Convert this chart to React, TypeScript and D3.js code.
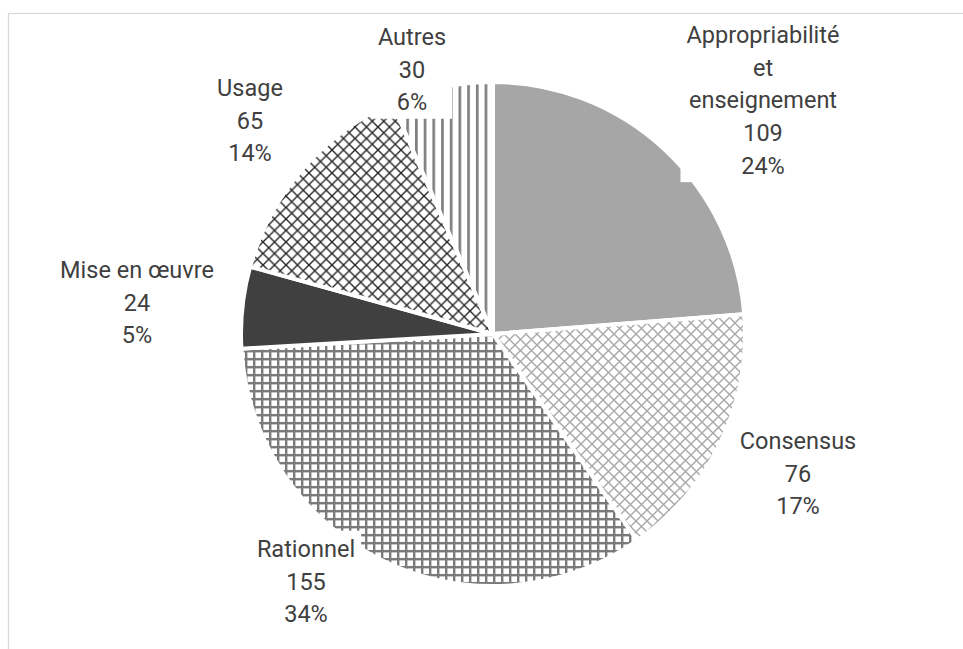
import React, { useEffect, useRef } from "react";
import * as d3 from "d3";

const categories = ["Appropriabilité et enseignement", "Consensus", "Rationnel", "Mise en œuvre", "Usage", "Autres"];
const values = [109, 76, 155, 24, 65, 30];
const labelNames = [["Appropriabilité", "et", "enseignement"], ["Consensus"], ["Rationnel"], ["Mise en œuvre"], ["Usage"], ["Autres"]];
const fills = ["#a6a6a6", "url(#pConsensus)", "url(#pRationnel)", "#404040", "url(#pUsage)", "url(#pAutres)"];

// layout (label anchors: centre x, first line centre y)
const labelAnchors: [number, number][] = [
  [763, 35],
  [798, 441],
  [306, 549],
  [137, 270],
  [250, 88],
  [412, 37],
];

const W = 963;
const H = 649;
const CX = 493;
const CY = 334;
const R = 252;
const LINE = 32.7;

// percentages rounded so that they sum to 100 (largest remainder)
function roundedPercents(vals: number[]): number[] {
  const total = d3.sum(vals);
  const raw = vals.map((v) => (v / total) * 100);
  const fl = raw.map(Math.floor);
  let left = 100 - d3.sum(fl);
  const order = raw.map((r, i) => ({ i, rem: r - Math.floor(r) })).sort((a, b) => b.rem - a.rem);
  for (const o of order) {
    if (left <= 0) break;
    fl[o.i] += 1;
    left -= 1;
  }
  return fl;
}

export default function App() {
  const ref = useRef<SVGSVGElement | null>(null);

  useEffect(() => {
    const svg = d3.select(ref.current);
    svg.selectAll("*").remove();

    const defs = svg.append("defs");
    const pc = defs.append("pattern").attr("id", "pConsensus").attr("patternUnits", "userSpaceOnUse")
      .attr("width", 11).attr("height", 11).attr("x", 0).attr("y", 0);
    pc.append("rect").attr("width", 11).attr("height", 11).attr("fill", "#fff");
    pc.append("path").attr("d", "M0,0L11,11M11,0L0,11").attr("stroke", "#a8a8a8").attr("stroke-width", 1.4);
    const pu = defs.append("pattern").attr("id", "pUsage").attr("patternUnits", "userSpaceOnUse")
      .attr("width", 11.5).attr("height", 11.5).attr("x", 0).attr("y", 0);
    pu.append("rect").attr("width", 11.5).attr("height", 11.5).attr("fill", "#fff");
    pu.append("path").attr("d", "M0,0L11.5,11.5M11.5,0L0,11.5").attr("stroke", "#262626").attr("stroke-width", 1.4);
    const pr = defs.append("pattern").attr("id", "pRationnel").attr("patternUnits", "userSpaceOnUse")
      .attr("width", 8).attr("height", 8).attr("x", 0).attr("y", 0);
    pr.append("rect").attr("width", 8).attr("height", 8).attr("fill", "#fff");
    pr.append("rect").attr("width", 8).attr("height", 2.4).attr("fill", "#7a7a7a");
    pr.append("rect").attr("width", 2.4).attr("height", 8).attr("fill", "#7a7a7a");
    const pa = defs.append("pattern").attr("id", "pAutres").attr("patternUnits", "userSpaceOnUse")
      .attr("width", 8.7).attr("height", 10).attr("x", 444).attr("y", 0);
    pa.append("rect").attr("width", 8.7).attr("height", 10).attr("fill", "#fff");
    pa.append("rect").attr("width", 2.7).attr("height", 10).attr("fill", "#808080");

    svg.append("rect").attr("x", 8.5).attr("y", 13.5).attr("width", 1200).attr("height", 1200)
      .attr("fill", "none").attr("stroke", "#d9d9d9").attr("stroke-width", 1.3);

    const data = categories.map((c, i) => ({ c, v: values[i], i }));
    const pcts = roundedPercents(values);
    const pie = d3.pie<any>().sort(null).value((d: any) => d.v);
    const arc = d3.arc<any>().innerRadius(0).outerRadius(R);
    const arcs = pie(data);

    const g = svg.append("g").attr("transform", `translate(${CX},${CY})`);
    g.selectAll("path").data(arcs).enter().append("path")
      .attr("d", arc as any)
      .attr("fill", (d: any) => fills[d.data.i])
      .attr("stroke", "#fff")
      .attr("stroke-width", 4)
      .attr("stroke-linejoin", "miter");

    const lg = svg.append("g");
    data.forEach((d, i) => {
      const lines = [...labelNames[i], String(d.v), `${pcts[i]}%`];
      const [ax, ay] = labelAnchors[i];
      const grp = lg.append("g");
      const bg = grp.append("rect").attr("fill", "#fff");
      const texts = lines.map((t, k) =>
        grp.append("text")
          .attr("x", ax)
          .attr("y", ay + k * LINE)
          .attr("text-anchor", "middle")
          .attr("dominant-baseline", "central")
          .attr("font-family", "Roboto, 'Open Sans', sans-serif")
          .attr("font-size", 23.5)
          .attr("fill", "#404040")
          .text(t)
      );
      let maxW = 0;
      texts.forEach((t) => {
        const n = t.node() as SVGTextElement;
        maxW = Math.max(maxW, n.getComputedTextLength());
      });
      bg.attr("x", ax - maxW / 2 - 6)
        .attr("y", ay - LINE / 2 - 2)
        .attr("width", maxW + 12)
        .attr("height", lines.length * LINE + 2);
    });
  }, []);

  return (
    <svg
      ref={ref}
      width={W}
      height={H}
      style={{ position: "absolute", left: 0, top: 0, background: "#fff" }}
    />
  );
}
